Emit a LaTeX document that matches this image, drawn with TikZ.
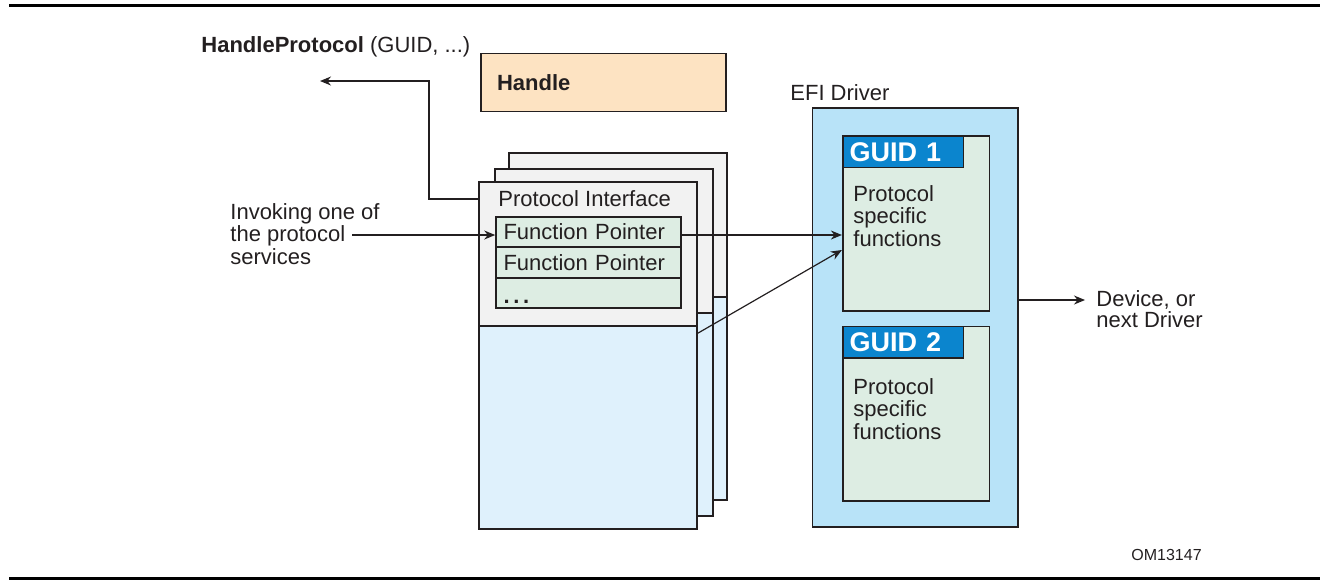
\documentclass[tikz,border=0pt]{standalone}
\usepackage{fontspec}
\setmainfont{Liberation Sans}
\usepackage{xcolor}
\usetikzlibrary{arrows.meta,calc}
\definecolor{inkgray}{RGB}{35,31,32}
\definecolor{handlepeach}{RGB}{253,227,194}
\definecolor{sheetgray}{RGB}{242,242,242}
\definecolor{sheetblue}{RGB}{223,241,252}
\definecolor{fpgreen}{RGB}{221,237,227}
\definecolor{driverblue}{RGB}{184,227,248}
\definecolor{guidblue}{RGB}{11,133,206}
\newcommand{\figfont}{\fontsize{11}{11.25}\selectfont}

\begin{document}
\begin{tikzpicture}[x=0.5pt, y=-0.5pt, font=\figfont, text=inkgray,
  box/.style={draw=inkgray, line width=0.8pt},
  sheettop/.style={box, fill=sheetgray, minimum width=109pt, minimum height=72pt, inner sep=0pt},
  sheetbot/.style={box, fill=sheetblue, minimum width=109pt, minimum height=101.5pt, inner sep=0pt},
  fprow/.style={box, fill=fpgreen, minimum height=15.25pt, text width=85pt, inner xsep=3.75pt, inner ysep=0pt, align=left},
  panel/.style={box, fill=fpgreen, minimum width=73.3pt, minimum height=87.3pt, inner sep=0pt},
  guid/.style={box, fill=guidblue, text=white, font=\fontsize{13.5}{14}\selectfont\bfseries, minimum height=15.65pt, text width=53.3pt, inner xsep=3.5pt, inner ysep=0pt, align=left, anchor=north west},
  txt/.style={inner sep=0pt, align=left},
  arr/.style={-{Stealth[length=5.5pt,width=4.5pt]}, line width=0.6pt, draw=inkgray}]
\useasboundingbox (0,0) rectangle (1337,586);
\draw[line width=1.5pt] (9,5.5) -- (1320,5.5);
\draw[line width=1.5pt] (9,578.5) -- (1320,578.5);

% handle
\node[txt, anchor=west] (hptext) at (201,47) {\textbf{HandleProtocol} (GUID, ...)};
\node[box, fill=handlepeach, minimum height=29pt, text width=106.5pt, inner xsep=8pt, align=left, font=\figfont\bfseries] (handle) at (603.5,82.5) {Handle};

% protocol interface sheets, back to front
\foreach \nm/\dx/\dy in {c/30/-29, b/16/-13, a/0/0} {
  \node[sheettop] (top\nm) at (588+\dx,254+\dy) {};
  \node[sheetbot] (bot\nm) at (588+\dx,427.5+\dy) {};
}
\node[txt, anchor=west] (pitext) at (498,199) {Protocol Interface};
\node[fprow] (fp1) at (588.5,232) {Function Pointer};
\node[fprow] (fp2) at (588.5,262.5) {Function Pointer};
\node[fprow] (fp3) at (588.5,293) {\vphantom{F}\raisebox{-3pt}{\bfseries.\,.\,.}};

\node[txt, anchor=west] (invoke) at (230,234) {Invoking one of\\the protocol\\services};

% driver
\node[txt, anchor=west] (efi) at (790,93) {EFI Driver};
\node[box, fill=driverblue, minimum width=102.65pt, minimum height=209.5pt] (driver) at (915.3,317.2) {};
\node[panel] (g1) at (916,223.4) {};
\node[guid] (g1head) at (g1.north west) {GUID 1};
\node[txt, anchor=west] (g1text) at (853,216) {Protocol\\specific\\functions};
\node[panel] (g2) at (916,413.9) {};
\node[guid] (g2head) at (g2.north west) {GUID 2};
\node[txt, anchor=west] (g2text) at (853,409) {Protocol\\specific\\functions};

\node[txt, anchor=west, font=\fontsize{11}{10.5}\selectfont] (device) at (1096,309) {Device, or\\next Driver};
\node[txt, anchor=west, font=\fontsize{8}{9}\selectfont] (omcode) at (1131,555) {OM13147};

% connectors
\coordinate (hpend) at (320,81);
\coordinate (hpbend) at (429,81);
\coordinate (invend) at (352,235);
\coordinate (devend) at (1085,300);
\draw[arr] (pitext.west -| topa.west) -| (hpbend) -- (hpend);
\draw[arr] (invend) -- (invend -| fp1.west);
\draw[arr] (fp1.east |- invend) -- (invend -| g1.west);
\draw[arr] ([yshift=-4pt]bota.north east) -- ([yshift=-13.3pt]g1.west);
\draw[arr] (driver.east |- devend) -- (devend);
\end{tikzpicture}
\end{document}
